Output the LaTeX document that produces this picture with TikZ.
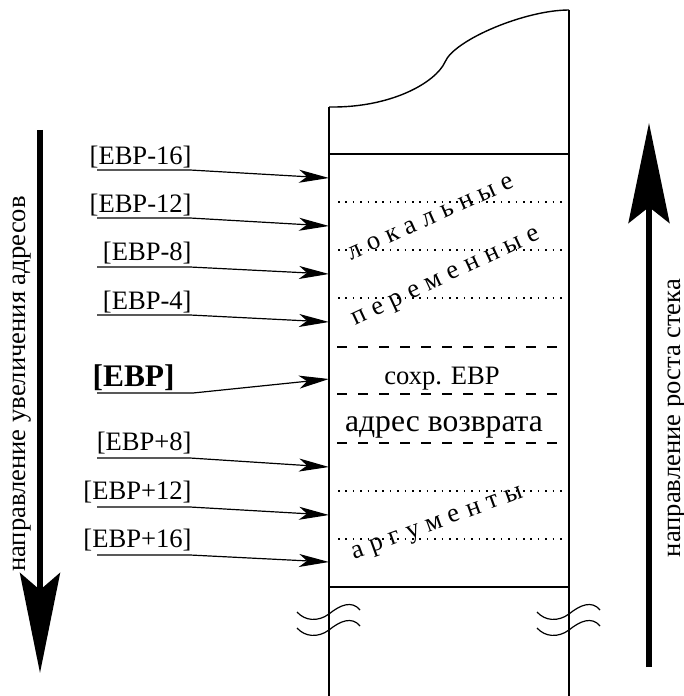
\documentclass[tikz,border=0pt]{standalone}
\usepackage{fontspec}
\setmainfont{Liberation Serif}
\usetikzlibrary{arrows.meta}

\begin{document}
\begin{tikzpicture}[x=0.5bp,y=-0.5bp,
    lbl/.style={font=\fontsize{13.3bp}{16bp}\selectfont, inner sep=0pt},
    spaced/.style={font=\fontsize{13.3bp}{16bp}\selectfont\addfontfeature{LetterSpace=28}, inner sep=0pt},
    ptr/.style={line width=0.6bp, -{Stealth[length=15bp,width=6.5bp,inset=4bp]}},
    wall/.style={line width=1.2bp},
    rowline/.style={line width=0.6bp},
    dots/.style={line width=0.7bp, dash pattern=on 0.8bp off 2.9bp},
    dashln/.style={line width=0.7bp, dash pattern=on 5bp off 5.5bp}]
             \useasboundingbox (0,0) rectangle (684,696);

             \draw[wall] (329,696) -- (329,107);
             \draw[wall] (569,696) -- (569,10);
             \draw[rowline, line width=0.7bp] (329,107) .. controls (392,108) and (436,82) .. (445,62)
                   .. controls (454,40) and (525,10) .. (569,10);

             \draw[rowline] (329,154) -- (569,154);
             \draw[rowline] (329,587) -- (569,587);
             \draw[dots] (338,202) -- (567,202);
             \draw[dots] (338,250) -- (567,250);
             \draw[dots] (338,298) -- (567,298);
             \draw[dashln] (337,347) -- (562,347);
             \draw[dashln] (337,394) -- (562,394);
             \draw[dashln] (337,443) -- (562,443);
             \draw[dots] (338,491) -- (567,491);
             \draw[dots] (338,539) -- (567,539);

             \draw[rowline] (297,612) .. controls (305,621) and (318,622) .. (329,614) .. controls (340,605) and (352,600) .. (360,610);
             \draw[rowline] (297,628) .. controls (305,637) and (318,638) .. (329,630) .. controls (340,621) and (352,616) .. (360,626);
             \draw[rowline, shift={(240,0)}] (297,612) .. controls (305,621) and (318,622) .. (329,614) .. controls (340,605) and (352,600) .. (360,610);
             \draw[rowline, shift={(240,0)}] (297,628) .. controls (305,637) and (318,638) .. (329,630) .. controls (340,621) and (352,616) .. (360,626);

             \node[spaced, rotate=24] (loc) at (431,218) {локальные};
             \node[spaced, rotate=25] (var) at (447,279) {переменные};
             \node[lbl] (save) at (442,379) {сохр. EBP};
             \node[lbl, font=\fontsize{15.8bp}{18bp}\selectfont] (ret) at (444,427) {адрес возврата};
             \node[spaced, rotate=20] (args) at (438,525) {аргументы};

             \node[lbl, anchor=south east] (l16) at (192,168) {[EBP-16]};
             \node[lbl, anchor=south east] (l12) at (192,216) {[EBP-12]};
             \node[lbl, anchor=south east] (l8) at (192,264) {[EBP-8]};
             \node[lbl, anchor=south east] (l4) at (192,313) {[EBP-4]};
             \node[lbl, font=\bfseries\fontsize{15.7bp}{18bp}\selectfont, anchor=south east] (l0) at (175,391) {[EBP]};
             \node[lbl, anchor=south east] (p8) at (192,454) {[EBP+8]};
             \node[lbl, anchor=south east] (p12) at (192,503) {[EBP+12]};
             \node[lbl, anchor=south east] (p16) at (192,551) {[EBP+16]};

             \coordinate (s16) at (97,170); \coordinate (t16) at (329,178);
             \coordinate (s12) at (97,218); \coordinate (t12) at (329,226);
             \coordinate (s8) at (97,267);  \coordinate (t8) at (329,274);
             \coordinate (s4) at (97,315);  \coordinate (t4) at (329,322);
             \coordinate (s0) at (97,393);  \coordinate (t0) at (329,379);
             \coordinate (sp8) at (97,458); \coordinate (tp8) at (329,467);
             \coordinate (sp12) at (97,507); \coordinate (tp12) at (329,515);
             \coordinate (sp16) at (97,555); \coordinate (tp16) at (329,562);

             \draw[ptr] (s16) -- ++(93,0) -- (t16);
             \draw[ptr] (s12) -- ++(93,0) -- (t12);
             \draw[ptr] (s8) -- ++(93,0) -- (t8);
             \draw[ptr] (s4) -- ++(93,0) -- (t4);
             \draw[ptr] (s0) -- ++(96,0) -- (t0);
             \draw[ptr] (sp8) -- ++(93,0) -- (tp8);
             \draw[ptr] (sp12) -- ++(93,0) -- (tp12);
             \draw[ptr] (sp16) -- ++(93,0) -- (tp16);

             \coordinate (dtop) at (40,130); \coordinate (dbot) at (40,673);
             \draw[line width=3bp, -{Stealth[length=50bp,width=20bp,inset=8.5bp]}] (dtop) -- (dbot);
             \node[lbl, rotate=90, anchor=base] (addr) at (25,384) {направление увеличения адресов};

             \coordinate (ubot) at (649,667); \coordinate (utop) at (649,123);
             \draw[line width=2.7bp, -{Stealth[length=50bp,width=20.5bp,inset=8bp]}] (ubot) -- (utop);
             \node[lbl, rotate=90, anchor=base] (grow) at (680,418) {направление роста стека};
\end{tikzpicture}
\end{document}
